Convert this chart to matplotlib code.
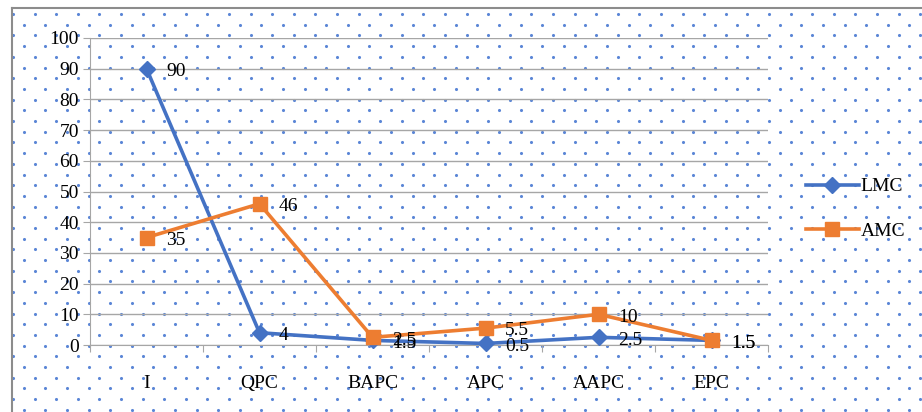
import matplotlib
matplotlib.use("Agg")
import matplotlib.pyplot as plt
import numpy as np

categories = ["I", "QPC", "BAPC", "APC", "AAPC", "EPC"]
lmc = [90, 4, 1.5, 0.5, 2.5, 1.5]
amc = [35, 46, 2.5, 5.5, 10, 1.5]
yticks = [0, 10, 20, 30, 40, 50, 60, 70, 80, 90, 100]

W, H = 922, 412
fig = plt.figure(figsize=(W/100, H/100), dpi=100)
fig.patch.set_facecolor("white")

# dotted background pattern
bg = fig.add_axes([0, 0, 1, 1], zorder=0)
bg.set_xlim(0, W); bg.set_ylim(H, 0); bg.axis("off")
xs, ys = [], []
row = 0
y = 14.0
while y < H:
    off = 0 if row % 2 == 0 else 10.8
    x = 13.0 + off
    while x < W:
        xs.append(x); ys.append(y)
        x += 21.6
    y += 10.7
    row += 1
bg.scatter(xs, ys, s=5, color="#5b86d6", linewidths=0)
# outer frame
bg.plot([12, 12], [8, H], color="#8c8c8c", lw=1.5)
bg.plot([12, W], [8, 8], color="#8c8c8c", lw=1.5)

serif = ["Liberation Serif", "DejaVu Serif"]
FS = 14

ax = fig.add_axes([90/W, 1-345/H, (768-90)/W, (345-38)/H], zorder=1)
ax.patch.set_alpha(0)
x = np.arange(len(categories))
ax.set_xlim(-0.5, len(categories)-0.5)
ax.set_ylim(0, 100)
ax.set_yticks(yticks)
ax.yaxis.grid(True, color="#a6a6a6", lw=1)
ax.set_axisbelow(True)
for s in ["top", "right"]:
    ax.spines[s].set_visible(False)
ax.spines["left"].set_color("#a6a6a6")
ax.spines["bottom"].set_color("#a6a6a6")
ax.tick_params(axis="y", length=5, color="#a6a6a6", labelsize=FS, pad=3)
ax.set_xticks(np.arange(-0.5, len(categories), 1.0))
ax.set_xticklabels([])
ax.tick_params(axis="x", length=5, color="#a6a6a6")
for lab in ax.get_yticklabels():
    lab.set_fontfamily(serif)
for i, c in enumerate(categories):
    ax.text(i, -12.5, c, ha="center", va="center", fontsize=FS, family=serif)

l1, = ax.plot(x, lmc, color="#4472C4", lw=2.6, marker="D", ms=8, label="LMC", clip_on=False, zorder=3)
l2, = ax.plot(x, amc, color="#ED7D31", lw=2.6, marker="s", ms=10, label="AMC", clip_on=False, zorder=4)

def fmt(v):
    return str(int(v)) if float(v).is_integer() else str(v)

for xi, v in zip(x, lmc):
    ax.annotate(fmt(v), (xi, v), xytext=(14, -2), textcoords="offset points",
                ha="left", va="center", fontsize=FS, family=serif, zorder=5)
for xi, v in zip(x, amc):
    ax.annotate(fmt(v), (xi, v), xytext=(14, -2), textcoords="offset points",
                ha="left", va="center", fontsize=FS, family=serif, zorder=5)

leg = fig.legend(handles=[l1, l2], loc="center left", bbox_to_anchor=(806/W, 1-209/H),
                 frameon=False, prop={"family": serif, "size": FS},
                 handlelength=2.7, labelspacing=1.4, handletextpad=0.1,
                 borderpad=0, borderaxespad=0)

fig.savefig("out.png", dpi=100)
